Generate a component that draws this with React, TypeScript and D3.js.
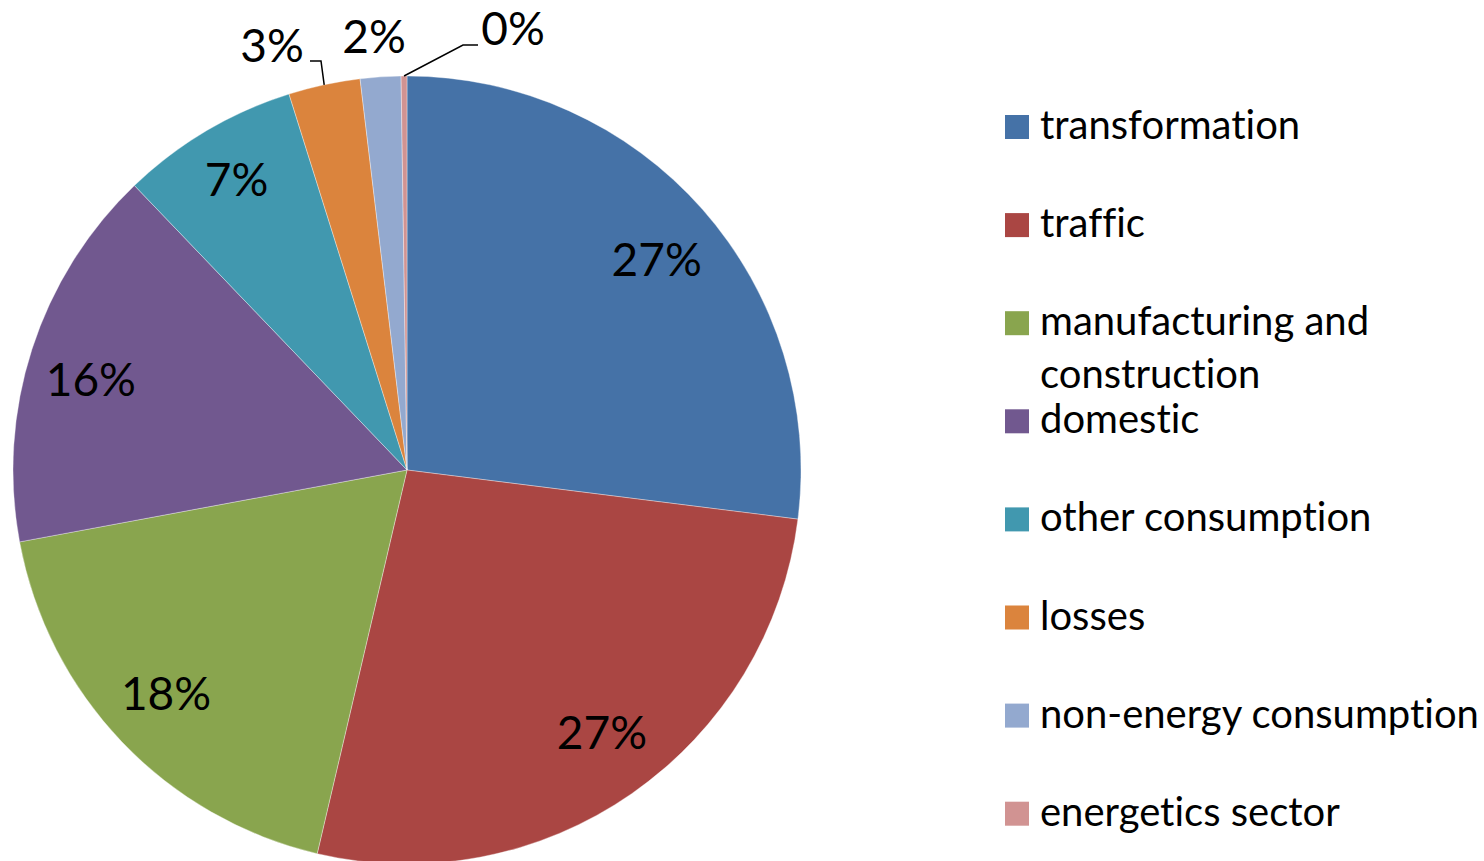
import React from "react";
import * as d3 from "d3";

const categories = [
  "transformation",
  "traffic",
  "manufacturing and construction",
  "domestic",
  "other consumption",
  "losses",
  "non-energy consumption",
  "energetics sector",
];
const shares = [26.99, 26.67, 18.42, 15.76, 7.32, 2.94, 1.66, 0.24];
const colors = ["#4572A7", "#AA4643", "#89A54E", "#71588F", "#4198AF", "#DB843D", "#93A9CF", "#D19392"];
const legendLines = [
  ["transformation"],
  ["traffic"],
  ["manufacturing and", "construction"],
  ["domestic"],
  ["other consumption"],
  ["losses"],
  ["non-energy consumption"],
  ["energetics sector"],
];

const W = 1484;
const H = 861;
const cx = 407;
const cy = 470;
const R = 394;
const FONT = "Lato, Calibri, 'Noto Sans', sans-serif";
const textStyle: React.CSSProperties = { fontVariantLigatures: "none", fontFeatureSettings: "'liga' 0, 'clig' 0" };

// small nudges for inside labels (layout only)
const insideNudge: [number, number][] = [[3, 8], [7, -7], [-3, -3], [-3, 11], [-3, -7]];

// outside label layout (for small slices): label position and leader elbow
const outside: Record<number, { lx: number; ly: number; elbow?: [number, number][] }> = {
  5: { lx: 272, ly: 62, elbow: [[321, 61], [310, 61]] },
  6: { lx: 374, ly: 53 },
  7: { lx: 513, ly: 45, elbow: [[463, 45], [478, 45]] },
};

export default function App() {
  const data = categories.map((c, i) => ({ name: c, value: shares[i], color: colors[i] }));
  const pie = d3.pie<any>().sort(null).value((d) => d.value);
  const arcs = pie(data);
  const arcGen = d3.arc<any>().innerRadius(0).outerRadius(R);
  const fmt = (v: number) => `${Math.round(v)}%`;
  const legendTop = 127;
  const legendStep = 98.1;

  return (
    <svg width={W} height={H} style={{ position: "absolute", left: 0, top: 0, background: "#fff" }}>
      <g transform={`translate(${cx},${cy})`}>
        {arcs.map((a, i) => (
          <path key={i} d={arcGen(a) || ""} fill={a.data.color} stroke="#ffffff" strokeOpacity={0.35} strokeWidth={1} />
        ))}
      </g>
      {arcs.map((a, i) => {
        const mid = (a.startAngle + a.endAngle) / 2;
        const o = outside[i];
        if (o) {
          const px = cx + R * Math.sin(mid);
          const py = cy - R * Math.cos(mid);
          return (
            <g key={i}>
              {o.elbow && (
                <polyline
                  points={[[px, py], ...o.elbow].map((p) => p.join(",")).join(" ")}
                  fill="none"
                  stroke="#000"
                  strokeWidth={1.5}
                />
              )}
              <text x={o.lx} y={o.ly} textAnchor="middle" fontFamily={FONT} fontSize={46} fill="#000" style={textStyle}>
                {fmt(a.data.value)}
              </text>
            </g>
          );
        }
        const r = R * 0.835;
        const [nx, ny] = insideNudge[i] || [0, 0];
        const x = cx + r * Math.sin(mid) + nx;
        const y = cy - r * Math.cos(mid) + ny;
        return (
          <text key={i} x={x} y={y + 16} textAnchor="middle" fontFamily={FONT} fontSize={46} fill="#000" style={textStyle}>
            {fmt(a.data.value)}
          </text>
        );
      })}
      {legendLines.map((lines, i) => {
        const yc = legendTop + i * legendStep;
        return (
          <g key={i}>
            <rect x={1005} y={yc - 12} width={24} height={24} fill={colors[i]} />
            {lines.map((t, j) => (
              <text key={j} x={1040} y={yc + 12 + j * 53} fontFamily={FONT} fontSize={40} fill="#000" style={textStyle}>
                {t}
              </text>
            ))}
          </g>
        );
      })}
    </svg>
  );
}
